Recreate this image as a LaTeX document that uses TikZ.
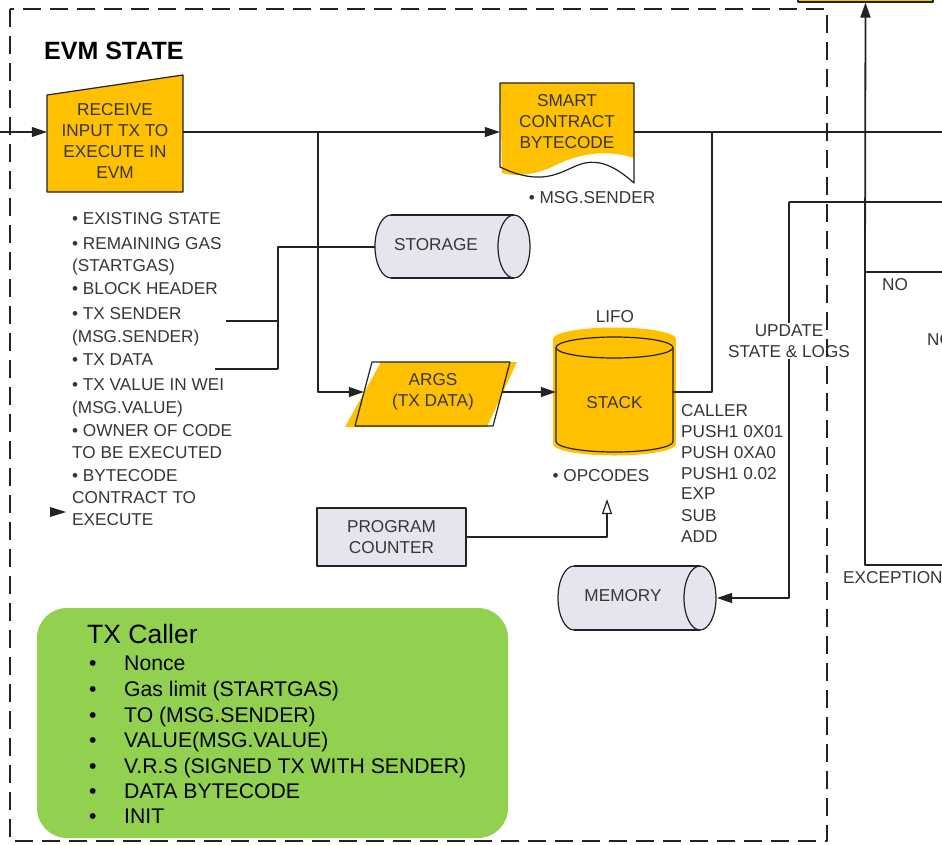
\documentclass[tikz,border=0pt]{standalone}
\usepackage{fontspec}
\setmainfont{Liberation Sans}
\usetikzlibrary{arrows.meta,calc}
\definecolor{amber}{HTML}{FFC000}
\definecolor{lav}{HTML}{E6E4ED}
\definecolor{leaf}{HTML}{92D050}
\definecolor{ink}{HTML}{222222}
\definecolor{txt}{HTML}{363636}
\begin{document}
\begin{tikzpicture}[x=1pt,y=-1pt,line join=round,
  wire/.style={draw=ink, line width=1.2pt},
  arr/.style={wire, -{Triangle[length=15pt,width=10pt]}},
  outline/.style={draw=ink, line width=1.2pt},
  lbl/.style={text=txt, font=\fontsize{17.2}{21}\selectfont, align=center, inner sep=0pt},
  item/.style={text=txt, font=\fontsize{17.2}{21}\selectfont, inner sep=0pt, anchor=base west},
  calleritem/.style={text=black, font=\fontsize{21.2}{25}\selectfont, inner sep=0pt, anchor=base west}]
\useasboundingbox (0,0) rectangle (942,844);

% ---------- TX caller panel ----------
\fill[leaf, rounded corners=30pt] (37,608) rectangle (508,838);
\node[anchor=base west, inner sep=0pt, font=\fontsize{26.5}{30}\selectfont] (caller) at (87,643) {TX Caller};
\foreach \t/\y [count=\i] in {Nonce/663, Gas limit (STARTGAS)/689, TO (MSG.SENDER)/715,
    VALUE(MSG.VALUE)/740, V.R.S (SIGNED TX WITH SENDER)/766, DATA BYTECODE/791, INIT/816}{
  \node[calleritem, name=cdot\i] at (89,\y+7.5) {•};
  \node[calleritem, name=citem\i] at (124,\y+7.5) {\t};
}

% ---------- shapes ----------
% manual input: receive transaction
\filldraw[outline, fill=amber] (47,95) -- (183,75) -- (183,192) -- (47,192) -- cycle;
% document: smart contract bytecode
\fill[amber] (500,83) -- (634,83) -- (634,158) .. controls (610,150) and (582,152) .. (556,165)
   .. controls (536,175) and (516,177) .. (502,173) -- cycle;
\draw[outline] (500,83) -- (634,83) -- (634,183) .. controls (615,166) and (600,160) .. (585,163)
   .. controls (565,167) and (548,190) .. (500,167) -- cycle;
% storage cylinder
\fill[lav] (391,215) rectangle (514,278);
\fill[lav] (391,246.5) ellipse[x radius=16, y radius=31.5];
\fill[lav] (514,246.5) ellipse[x radius=16, y radius=31.5];
\draw[outline] (391,278) -- (514,278);
\draw[outline] (391,215) -- (514,215);
\draw[outline] (391,278) arc[start angle=90, end angle=270, x radius=16, y radius=31.5];
\draw[outline] (514,246.5) ellipse[x radius=16, y radius=31.5];
% memory cylinder
\fill[lav] (574,566) rectangle (700,630);
\fill[lav] (574,598) ellipse[x radius=16, y radius=32];
\fill[lav] (700,598) ellipse[x radius=16, y radius=32];
\draw[outline] (574,566) -- (700,566);
\draw[outline] (574,630) -- (700,630);
\draw[outline] (574,630) arc[start angle=90, end angle=270, x radius=16, y radius=32];
\draw[outline] (700,598) ellipse[x radius=16, y radius=32];
% args parallelogram
\fill[amber] (381,362) -- (517,362) -- (487,427) -- (345,427) -- cycle;
\draw[outline] (372,362) -- (510,362) -- (493,426) -- (355,426) -- cycle;
% stack cylinder
\fill[amber] (553,339) rectangle (676,444);
\fill[amber] (614.5,339) ellipse[x radius=61.5, y radius=11.5];
\fill[amber] (614.5,444) ellipse[x radius=61.5, y radius=11.5];
\draw[outline] (556,347.5) -- (556,441.5) arc[start angle=180, end angle=0, x radius=58.5, y radius=10.5] -- (673,347.5);
\draw[outline] (614.5,347.5) ellipse[x radius=58.5, y radius=10.5];
% program counter
\node[lbl, draw=ink, line width=1.2pt, fill=lav, minimum width=149, minimum height=58] (pc) at (391.5,537) {PROGRAM\\COUNTER};
% box above the frame
\node[draw=ink, line width=1.2pt, fill=amber, minimum width=135, minimum height=12, inner sep=0pt] (topbox) at (865.5,-4) {};

% ---------- text inside shapes ----------
\node[lbl, minimum width=136, font=\fontsize{17.2}{20.7}\selectfont] (recv) at (115,141) {RECEIVE\\INPUT TX TO\\EXECUTE IN\\EVM};
\node[lbl, minimum width=134] (sc) at (567,122) {SMART\\CONTRACT\\BYTECODE};
\node[lbl] (stor) at (436,245) {STORAGE};
\node[lbl, minimum width=138] (args) at (433,392) {ARGS\\(TX DATA)};
\node[lbl, minimum width=117] (stack) at (614.5,403) {STACK};
\node[lbl] (mem) at (623,596) {MEMORY};
\node[lbl] (lifo) at (615,317) {LIFO};
\node[lbl] (opc) at (601,476) {• OPCODES};
\node[lbl] (sender) at (592,198) {• MSG.SENDER};
\node[anchor=base west, inner sep=0pt, font=\bfseries\fontsize{25}{30}\selectfont] (title) at (44,59) {EVM STATE};

% ---------- lists ----------
\foreach \t/\y [count=\i] in {{• EXISTING STATE}/218, {• REMAINING GAS}/243, {(STARTGAS)}/265,
    {• BLOCK HEADER}/288, {• TX SENDER}/313, {(MSG.SENDER)}/336, {• TX DATA}/359,
    {• TX VALUE IN WEI}/384, {(MSG.VALUE)}/407, {• OWNER OF CODE}/430, {TO BE EXECUTED}/452,
    {• BYTECODE}/475, {CONTRACT TO}/497, {EXECUTE}/519}{
  \node[item, name=state\i] at (72,\y+6) {\t};
}
\foreach \t/\y [count=\i] in {CALLER/410, PUSH1 0X01/431, PUSH 0XA0/452, PUSH1 0.02/473,
    EXP/493, SUB/515, ADD/536}{
  \node[item, name=op\i] at (681,\y+6) {\t};
}

% ---------- connectors ----------
\coordinate (entry) at (0,132);
\coordinate (split) at (318,132);
\coordinate (busend) at (942,132);
\coordinate (rise) at (712,132);
\coordinate (storw) at (375,247);
\coordinate (join) at (278,369);
\coordinate (sendtail) at (226,321);
\coordinate (datatail) at (215,369);
\coordinate (opctip) at (607,499);
\coordinate (memin) at (717,598);
\coordinate (logs) at (789,202);
\coordinate (logsend) at (942,202);
\coordinate (noturn) at (865,272);
\coordinate (noend) at (942,272);
\coordinate (excend) at (942,565);

\draw[arr] (entry) -- (entry -| recv.west);
\draw[arr] (recv.east |- entry) -- (sc.west |- entry);
\draw[wire] (sc.east |- entry) -- (busend);
\draw[line width=2.4pt, draw=ink] (rise) -- (836,132);
\draw[arr] (split) |- (args.west);
\draw[arr] (args.east) -- (args.east -| stack.west);
\draw[wire] (stack.east |- args.east) -| (rise);
\draw[wire] (storw) -| (join);
\draw[wire] (sendtail) -- (sendtail -| join);
\draw[wire] (datatail) -- (join);
\draw[wire, -{Triangle[open, length=15pt, width=10pt]}] (pc.east) -| (opctip);
\draw[wire] (logs) -- (logsend);
\draw[arr] (logs) |- (memin);
\draw[wire] (noend) -- (noturn);
\draw[wire, line width=1.8pt, -{Triangle[length=15pt,width=10pt]}] (noturn) -- (topbox.south);
\draw[wire] (excend) -| (noturn);
\fill[ink] (50,507) -- (66,512) -- (50,517) -- cycle;

% ---------- connector labels ----------
\node[lbl, fill=white, inner sep=1.5pt] (upd) at (789,341) {UPDATE\\STATE \& LOGS};
\node[lbl] (no1) at (895,285) {NO};
\node[lbl, anchor=west] (no2) at (927,340) {NO};
\node[lbl, anchor=west] (exc) at (843,578) {EXCEPTION};

% ---------- frame ----------
\draw[draw=ink, line width=1.4pt, dash pattern=on 18pt off 9pt] (10,9) rectangle (827,841);
\end{tikzpicture}
\end{document}
